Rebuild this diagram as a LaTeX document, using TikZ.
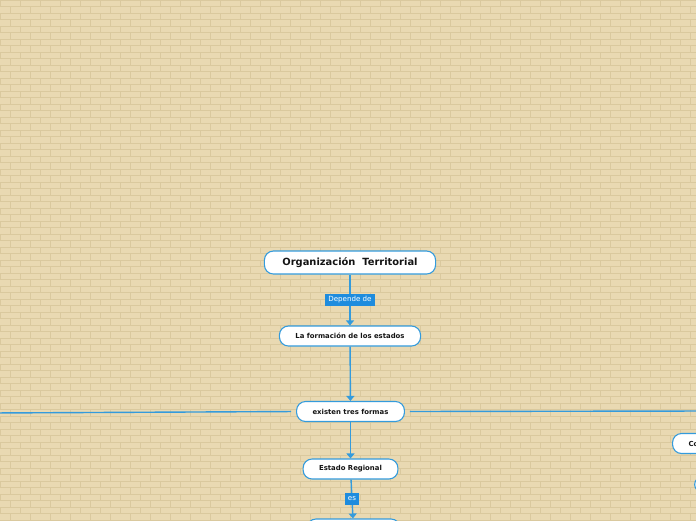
\documentclass[tikz,border=0pt]{standalone}
\usepackage{fontspec}
\setmainfont{DejaVu Sans}
\usetikzlibrary{arrows.meta,positioning}
\usepackage{xcolor}
\definecolor{mmblue}{RGB}{52,155,220}
\definecolor{mmtag}{RGB}{30,140,222}
\definecolor{mmsand}{RGB}{233,217,178}
\definecolor{mmjoint}{RGB}{218,201,158}
\definecolor{mmink}{RGB}{20,20,20}
\tikzset{
    topic/.style={
        draw=mmblue,line width=1.1pt,rounded corners=9pt,fill=white,
        text=mmink,font=\fontsize{6.9}{8}\selectfont\bfseries,
        inner xsep=16pt,inner ysep=0pt,minimum height=20pt
    },
    tag/.style={
        fill=mmtag,text=white,font=\fontsize{7.1}{8}\selectfont,
        inner xsep=3pt,inner ysep=0pt,minimum height=12pt
    },
    link/.style={
        -{Triangle[length=5pt,width=8pt]},line width=1.4pt,draw=mmblue
    },
    branch/.style={
        line width=1.4pt,draw=mmblue
    }
}

\begin{document}
\begin{tikzpicture}[x=1pt,y=-1pt]

\useasboundingbox (0,0) rectangle (696,520);
\clip (0,0) rectangle (696,520);

% brick wall
\fill[mmsand] (0,0) rectangle (696,520);
\foreach \r in {0,...,80}{
    \draw[mmjoint,line width=0.5pt] (0,\r*6.5) -- (696,\r*6.5);
    \foreach \c in {0,...,35}{
        \draw[mmjoint,line width=0.5pt] ({\c*20+mod(\r,2)*10},\r*6.5) -- ++(0,6.5);
    }
}

\node[topic,font=\fontsize{9.9}{11}\selectfont\bfseries,
inner xsep=18pt,minimum height=23pt]
(org) at (350,262.5){Organización~~Territorial};

\node[topic]
(form) at (350,336){La formación de los estados};

\node[topic]
(tres) at (350.5,411.5){existen tres formas};

\node[topic]
(regional) at (350.5,469){Estado Regional};

\node[topic,minimum width=93pt]
(regbelow) at (353.5,529){};

\node[topic,anchor=west,text width=80pt,align=left]
(conf) at (672,443.5){Co};

\node[topic,anchor=west,minimum width=90pt,minimum height=17pt]
(otra) at (694,484.5){};

\coordinate (izq) at (-10,413);
\coordinate (der) at (710,411);

\draw[link](org)--node[tag]{Depende de}(form);
\draw[link](form)--(tres);
\draw[link](tres)--(regional);
\draw[link](regional)--node[tag]{es}(regbelow);
\draw[branch,shorten <=5pt](tres.west)--(izq);
\draw[branch,shorten <=5pt](tres.east)--(der);

\end{tikzpicture}
\end{document}
